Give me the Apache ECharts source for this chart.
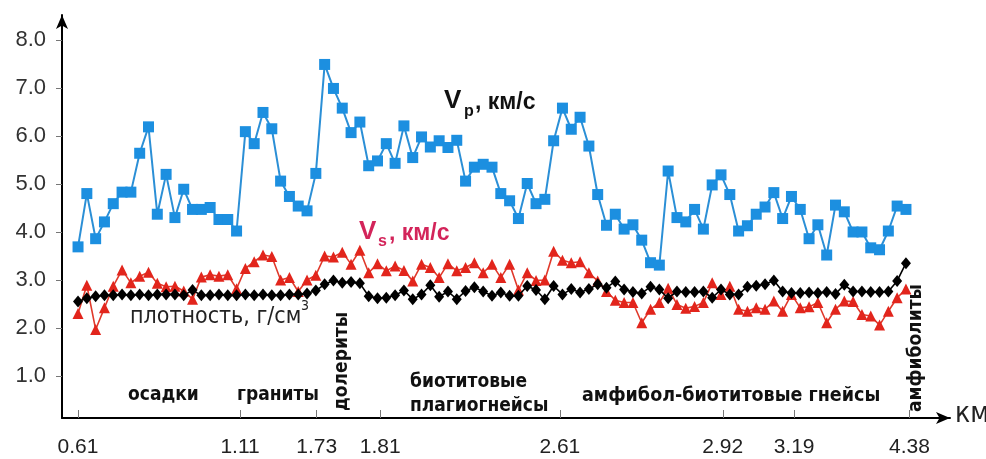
<!DOCTYPE html>
<html><head><meta charset="utf-8">
<script src="https://cdn.jsdelivr.net/npm/echarts@6/dist/echarts.min.js"></script>
<style>html,body{margin:0;padding:0;background:#fff}#c{width:986px;height:459px}</style>
</head><body><div id="c"></div>
<script>
// sample index along the profile (0..94)
const vp = [3.69,4.80,3.86,4.21,4.59,4.83,4.83,5.64,6.19,4.37,5.20,4.30,4.89,4.47,4.47,4.51,4.26,4.26,4.02,
  6.09,5.84,6.49,6.15,5.06,4.74,4.54,4.44,5.22,7.49,6.99,6.58,6.07,6.29,5.38,5.48,5.84,5.43,6.21,5.55,
  5.98,5.77,5.90,5.76,5.91,5.06,5.35,5.41,5.35,4.80,4.65,4.28,5.01,4.59,4.68,5.90,6.58,6.14,6.39,5.79,
  4.78,4.14,4.37,4.06,4.15,3.83,3.36,3.31,5.27,4.30,4.21,4.47,4.06,4.98,5.19,4.78,4.02,4.13,4.37,4.52,
  4.82,4.28,4.74,4.47,3.86,4.15,3.52,4.56,4.42,4.00,4.00,3.67,3.63,4.02,4.54,4.47];
const vs = [2.30,2.89,1.97,2.42,2.87,3.21,2.94,3.08,3.16,2.93,2.86,2.87,2.77,2.60,3.06,3.11,3.08,3.11,2.82,
  3.24,3.38,3.52,3.49,3.00,3.05,2.76,3.00,3.10,3.50,3.48,3.58,3.33,3.62,3.15,3.34,3.19,3.29,3.20,2.98,
  3.33,3.26,3.05,3.34,3.19,3.26,3.36,3.15,3.33,3.05,3.33,2.79,3.15,2.99,3.00,3.60,3.41,3.36,3.38,3.15,
  2.98,2.76,2.58,2.53,2.53,2.11,2.39,2.53,2.83,2.49,2.41,2.45,2.53,2.94,2.70,2.87,2.39,2.35,2.42,2.39,
  2.56,2.35,2.70,2.42,2.44,2.53,2.11,2.39,2.56,2.55,2.28,2.25,2.06,2.35,2.63,2.81];
const rho = [2.55,2.62,2.66,2.68,2.68,2.70,2.68,2.70,2.68,2.70,2.70,2.70,2.68,2.79,2.68,2.68,2.70,2.68,2.68,
  2.70,2.68,2.70,2.68,2.68,2.70,2.70,2.72,2.78,2.91,2.99,2.94,2.96,2.93,2.66,2.62,2.63,2.68,2.78,2.60,
  2.70,2.89,2.65,2.76,2.60,2.77,2.85,2.76,2.67,2.74,2.67,2.67,2.875,2.79,2.60,2.875,2.70,2.81,2.74,2.81,
  2.91,2.84,2.97,2.80,2.75,2.72,2.86,2.80,2.62,2.76,2.75,2.75,2.76,2.63,2.80,2.70,2.70,2.86,2.88,2.91,
  2.99,2.76,2.73,2.73,2.74,2.73,2.75,2.71,2.90,2.76,2.76,2.75,2.75,2.76,2.98,3.35];
// depth tick positions (in sample index) and their labels, km
const depthTickIdx = [0, 18.4, 27.1, 34.3, 54.7, 73.2, 81.3, 94.4];
const depthTickLabels = ['0.61','1.11','1.73','1.81','2.61','2.92','3.19','4.38'];
const yTickValues = [1,2,3,4,5,6,7,8];

const lbl = new Map(depthTickIdx.map((v,i)=>[v, depthTickLabels[i]]));
const toXY = a => a.map((v,i)=>[i,v]);
const cond = '"DejaVu Sans Condensed","Liberation Sans Narrow",sans-serif';
const sans = '"Liberation Sans",Arial,sans-serif';

const chart = echarts.init(document.getElementById('c'), null, {renderer:'canvas'});
chart.setOption({
  animation:false,
  backgroundColor:'#fff',
  grid:{left:62,right:36,top:15,bottom:41,outerBoundsMode:'none'},
  xAxis:{
    type:'value', min:-1.82, max:99.0,
    splitLine:{show:false},
    axisLine:{show:true, onZero:false, symbol:['none','arrow'], symbolSize:[9,14], lineStyle:{color:'#000',width:2}},
    axisTick:{show:true, customValues:depthTickIdx, inside:true, length:8, lineStyle:{color:'#777',width:1}},
    axisLabel:{show:true, customValues:depthTickIdx, formatter:v=>lbl.get(v)||'', fontSize:21, color:'#222', margin:19, fontFamily:sans}
  },
  yAxis:{
    type:'value', min:0.125, max:8.52,
    splitLine:{show:false},
    axisLine:{show:true, onZero:false, symbol:['none','arrow'], symbolSize:[9,14], lineStyle:{color:'#000',width:2}},
    axisTick:{show:true, customValues:yTickValues, inside:false, length:6, lineStyle:{color:'#777',width:1}},
    axisLabel:{show:true, customValues:yTickValues, formatter:v=>v.toFixed(1), fontSize:22, color:'#333', margin:16, fontFamily:sans}
  },
  series:[
    {type:'line', data:toXY(vp), symbol:'rect', symbolSize:11, lineStyle:{color:'#2b8fd6',width:2},
     itemStyle:{color:'#1c8fe0'}, z:3},
    {type:'line', data:toXY(vs), symbol:'triangle', symbolSize:11, lineStyle:{color:'#e0392b',width:1.6},
     itemStyle:{color:'#e2251c'}, z:4},
    {type:'line', data:toXY(rho), symbol:'diamond', symbolSize:[10,12], lineStyle:{color:'#000',width:1.6},
     itemStyle:{color:'#000'}, z:5}
  ],
  graphic:[
    {type:'text', left:444, top:88, style:{text:'V', font:'bold 26px '+sans, fill:'#111'}},
    {type:'text', left:464, top:104, style:{text:'p', font:'bold 16px '+sans, fill:'#111'}},
    {type:'text', left:475, top:91, style:{text:', км/с', font:'bold 23px '+sans, fill:'#111'}},
    {type:'text', left:359, top:219, style:{text:'V', font:'bold 26px '+sans, fill:'#d3245a'}},
    {type:'text', left:378, top:234, style:{text:'s', font:'bold 16px '+sans, fill:'#d3245a'}},
    {type:'text', left:389, top:222, style:{text:', км/с', font:'bold 23px '+sans, fill:'#d3245a'}},
    {type:'text', left:130, top:306, style:{text:'плотность, г/см', font:'23px '+cond, fill:'#222'}},
    {type:'text', x:301, y:299, z:10, style:{text:'3', fontSize:14, fontFamily:'DejaVu Sans Condensed', fill:'#222', textAlign:'left', textVerticalAlign:'top'}},
    {type:'text', left:128, top:386, style:{text:'осадки', font:'bold 19px '+cond, fill:'#111'}},
    {type:'text', left:237, top:386, style:{text:'граниты', font:'bold 19px '+cond, fill:'#111'}},
    {type:'text', left:410, top:373, style:{text:'биотитовые', font:'bold 19px '+cond, fill:'#111'}},
    {type:'text', left:410, top:397, style:{text:'плагиогнейсы', font:'bold 19px '+cond, fill:'#111'}},
    {type:'text', left:582, top:386, style:{text:'амфибол-биотитовые гнейсы', font:'bold 19.5px '+cond, fill:'#111'}},
    {type:'text', x:333, y:411, rotation:Math.PI/2, style:{text:'долериты', font:'bold 19px '+cond, fill:'#111', textAlign:'left', textVerticalAlign:'top'}},
    {type:'text', x:907, y:412, rotation:Math.PI/2, style:{text:'амфиболиты', font:'bold 19px '+cond, fill:'#111', textAlign:'left', textVerticalAlign:'top'}},
    {type:'text', left:955, top:401, style:{text:'км', font:'28px '+cond, fill:'#222'}}
  ]
});
</script></body></html>
